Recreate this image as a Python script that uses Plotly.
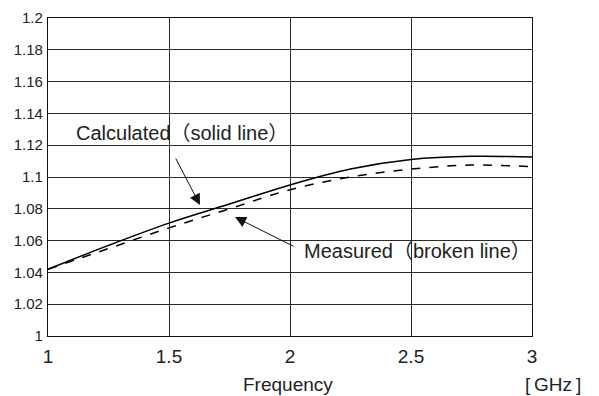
import plotly.graph_objects as go

freq = [1.0, 1.25, 1.5, 1.75, 2.0, 2.25, 2.5, 2.75, 3.0]
calculated = [1.042, 1.057, 1.071, 1.083, 1.095, 1.105, 1.111, 1.113, 1.1125]
measured = [1.042, 1.055, 1.068, 1.080, 1.092, 1.100, 1.105, 1.1075, 1.1065]
y_ticks = [1.0, 1.02, 1.04, 1.06, 1.08, 1.1, 1.12, 1.14, 1.16, 1.18, 1.2]
y_labels = ["1", "1.02", "1.04", "1.06", "1.08", "1.1", "1.12", "1.14", "1.16", "1.18", "1.2"]
x_ticks = [1, 1.5, 2, 2.5, 3]
x_labels = ["1", "1.5", "2", "2.5", "3"]

FONT = "Liberation Sans, Arial, Noto Sans CJK JP, sans-serif"
TXT = "#222"

fig = go.Figure()
fig.add_trace(go.Scatter(x=freq, y=calculated, mode="lines", line=dict(color="black", width=1.5, shape="spline"), name="Calculated"))
fig.add_trace(go.Scatter(x=freq, y=measured, mode="lines", line=dict(color="black", width=1.5, dash="dash", shape="spline"), name="Measured"))

fig.update_layout(
    width=591, height=388,
    margin=dict(l=40, r=67, t=10, b=60),
    plot_bgcolor="white", paper_bgcolor="white",
    showlegend=False,
    font=dict(family=FONT, color=TXT),
    xaxis=dict(range=[1, 3], tickvals=x_ticks, ticktext=x_labels, showgrid=True, gridcolor="#2a2a2a", gridwidth=1,
               showline=True, linecolor="#111", linewidth=1.2, mirror=True, zeroline=False, automargin=False,
               tickfont=dict(size=19), ticks="", ticklabelstandoff=3),
    yaxis=dict(range=[1, 1.2], tickvals=y_ticks, ticktext=y_labels, showgrid=True, gridcolor="#2a2a2a", gridwidth=1,
               showline=True, linecolor="#111", linewidth=1.2, mirror=True, zeroline=False, automargin=False,
               tickfont=dict(size=15), ticks="", ticklabelstandoff=1),
)

fig.add_annotation(x=1.628, y=1.0824, xref="x", yref="y", ax=-25, ay=-48, text="", showarrow=True,
                   arrowhead=2, arrowsize=2.2, arrowwidth=1, arrowcolor="#111")
fig.add_annotation(x=1.773, y=1.0748, xref="x", yref="y", ax=60, ay=30, text="", showarrow=True,
                   arrowhead=2, arrowsize=2.2, arrowwidth=1, arrowcolor="#111")
fig.add_annotation(x=1.108, y=1.1277, xref="x", yref="y", xanchor="left", yanchor="middle", showarrow=False,
                   text="Calculated（solid line）", font=dict(size=20, color=TXT))
fig.add_annotation(x=2.05, y=1.0535, xref="x", yref="y", xanchor="left", yanchor="middle", showarrow=False,
                   text="Measured（broken line）", font=dict(size=20, color=TXT))
fig.add_annotation(x=0.496, y=0, xref="paper", yref="paper", xanchor="center", yanchor="middle", yshift=-48,
                   showarrow=False, text="Frequency", font=dict(size=19, color=TXT))
fig.add_annotation(x=0.981, y=0, xref="paper", yref="paper", xanchor="left", yanchor="middle", yshift=-48,
                   showarrow=False, text="[\u2009GHz\u2009]", font=dict(size=19, color=TXT))

fig.write_html("out.html")
